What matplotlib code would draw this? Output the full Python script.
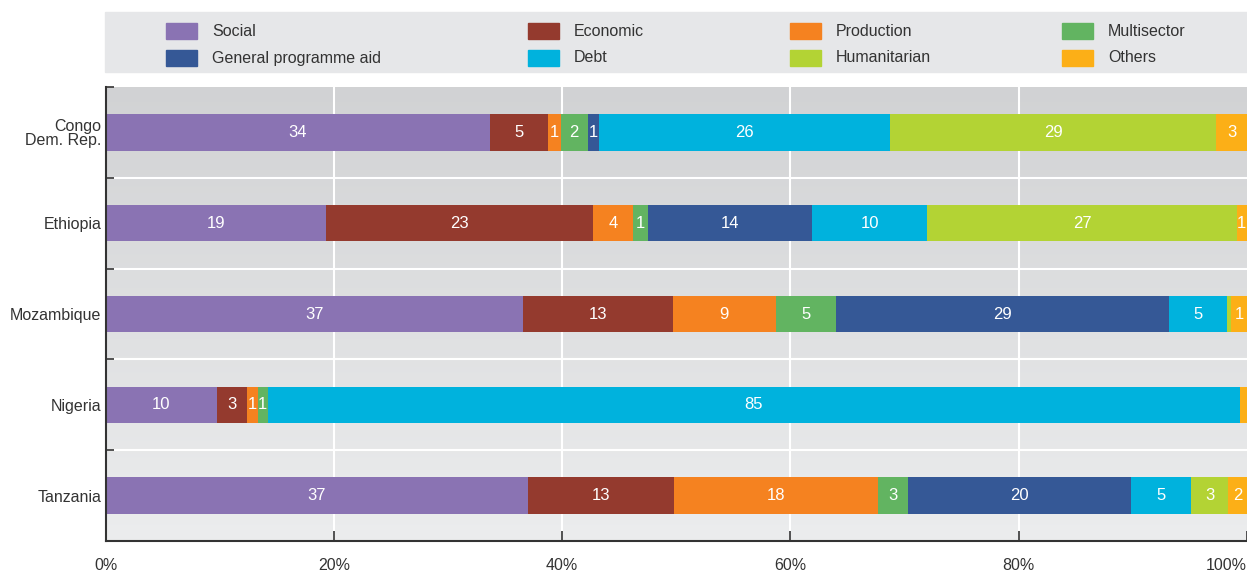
import matplotlib
matplotlib.use("Agg")

import numpy as np
import matplotlib.pyplot as plt
from matplotlib.patches import Rectangle

# ---------------------------
# DATA (share of aid, %)
# ---------------------------

countries = ["Congo\nDem. Rep.", "Ethiopia", "Mozambique", "Nigeria", "Tanzania"]
sectors = ["Social", "Economic", "Production", "Multisector",
           "General programme aid", "Debt", "Humanitarian", "Others"]

social = [33.65, 19.3, 36.6, 9.75, 37.0]
economic = [5.08, 23.4, 13.1, 2.6, 12.8]
production = [1.14, 3.5, 9.0, 0.97, 17.84]
multisector = [2.37, 1.3, 5.25, 0.88, 2.65]
general_aid = [0.96, 14.4, 29.2, 0.0, 19.55]
debt = [25.56, 10.1, 5.1, 85.2, 5.25]
humanitarian = [28.56, 27.1, 0.35, 0.0, 3.25]
others = [2.7, 0.9, 1.4, 0.6, 1.7]

xticks = [0, 20, 40, 60, 80, 100]
xticklabels = ["0%", "20%", "40%", "60%", "80%", "100%"]

colors = ["#8a73b3", "#943a2e", "#f58220", "#62b461",
          "#355896", "#00b2dd", "#b3d334", "#fcaf17"]

series = [social, economic, production, multisector,
          general_aid, debt, humanitarian, others]

plt.rcParams["font.family"] = ["Liberation Sans", "DejaVu Sans"]
FS = 11.5

fig = plt.figure(figsize=(12.47, 5.71), dpi=100)
ax = fig.add_axes([0.0848, 0.0525, 0.9152, 0.7951])

# background gradient, darker at top
grad = np.linspace(0, 1, 256).reshape(-1, 1, 1)
top = np.array([0.820, 0.824, 0.831])
bot = np.array([0.925, 0.929, 0.933])
img = top + (bot - top) * grad
ax.imshow(img, extent=(0, 100, 4.5, -0.5), aspect="auto", zorder=0)

# white grid
for x in xticks[1:-1]:
    ax.axvline(x, color="white", lw=1.5, zorder=1)
for y in np.arange(0.5, len(countries) - 0.5, 1):
    ax.axhline(y, color="white", lw=1.5, zorder=1)

# ---------------------------
# STACKED BARS
# ---------------------------
ypos = np.arange(len(countries))
left = np.zeros(len(countries))
for vals, col in zip(series, colors):
    vals = np.array(vals)
    ax.barh(ypos, vals, left=left, height=0.4, color=col, zorder=2)
    for i, v in enumerate(vals):
        if v >= 0.7:
            ax.text(left[i] + v / 2, ypos[i], f"{round(v)}", color="white",
                    ha="center", va="center", fontsize=12, zorder=3,
                    clip_on=True)
    left += vals

ax.set_xlim(0, 100)
ax.set_ylim(4.5, -0.5)

ax.set_yticks(ypos)
ax.set_yticklabels(countries, fontsize=FS, color="#333333",
                   linespacing=0.95)
ax.set_yticks(np.arange(-0.5, len(countries), 1), minor=True)
ax.tick_params(axis="y", which="major", length=0, pad=3)
ax.tick_params(axis="y", which="minor", direction="in", length=6,
               width=1.2, color="#333333")

ax.set_xticks(xticks)
ax.set_xticklabels(xticklabels, fontsize=FS, color="#333333")
ax.get_xticklabels()[-1].set_ha("right")
ax.tick_params(axis="x", direction="in", length=7, width=1.2,
               color="#333333", pad=12)

for s in ["top", "right"]:
    ax.spines[s].set_visible(False)
for s in ["left", "bottom"]:
    ax.spines[s].set_color("#333333")
    ax.spines[s].set_linewidth(1.5)
    ax.spines[s].set_zorder(4)

# ---------------------------
# LEGEND (manual, grey box)
# ---------------------------
W, H = 1247.0, 571.0
fig.patches.append(Rectangle((105 / W, 1 - 72 / H), 1142 / W, 60 / H,
                             transform=fig.transFigure, color="#e6e7e9",
                             zorder=0))
col_x = [166, 528, 790, 1062]
row_y = [31, 58]
for k, (name, col) in enumerate(zip(sectors, colors)):
    cx = col_x[k % 4]
    cy = row_y[k // 4]
    fig.patches.append(Rectangle((cx / W, 1 - (cy + 8) / H), 31 / W, 16 / H,
                                 transform=fig.transFigure, color=col))
    fig.text((cx + 46) / W, 1 - cy / H, name, fontsize=FS,
             color="#333333", va="center", ha="left")

fig.savefig("out.png", dpi=100)
